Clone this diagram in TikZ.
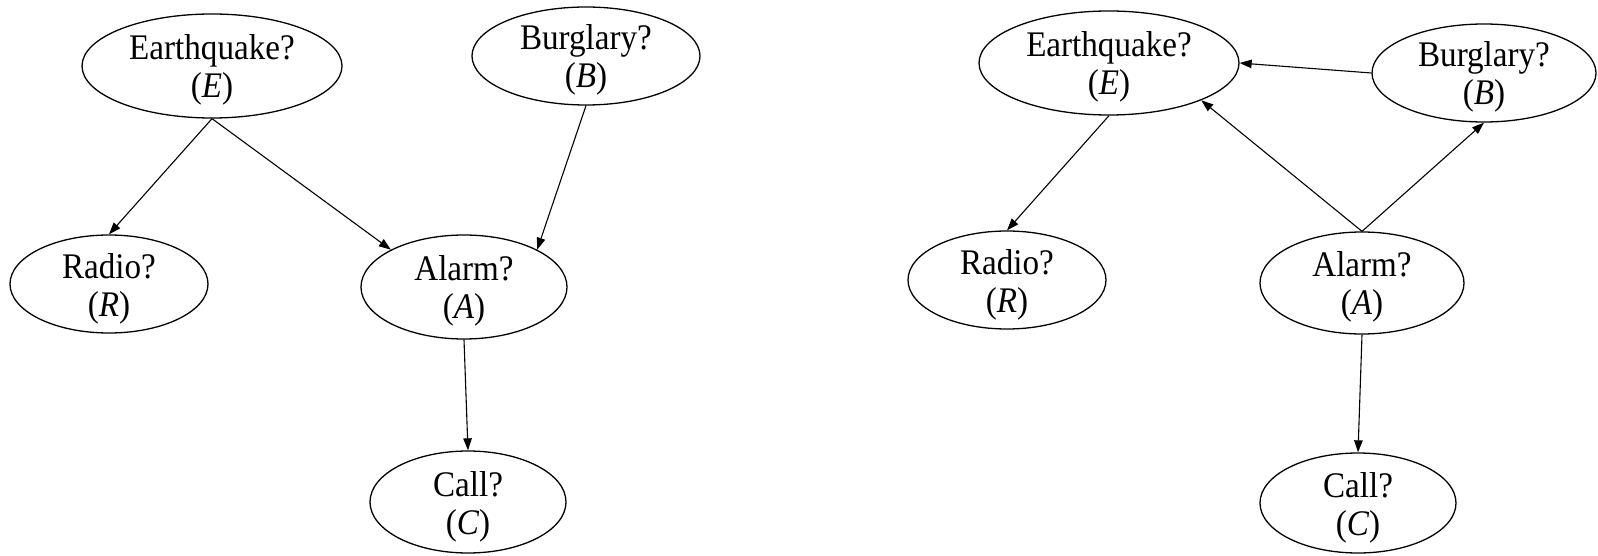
\documentclass[tikz,border=0pt]{standalone}
\usepackage{fontspec}
\setmainfont{Liberation Serif}[FakeStretch=0.92]
\usetikzlibrary{shapes.geometric,arrows.meta}
% two-line label: name and variable letter, centred on the node without
% affecting the ellipse size
\newcommand{\varlabel}[2]{\smash{\raisebox{-32pt}{%
  \begin{tabular}[b]{@{}c@{}}#1\\(\textit{#2})\end{tabular}}}}
\tikzset{
  var/.style={ellipse, draw, line width=1.3pt, inner sep=0pt,
    font=\fontsize{36}{38}\selectfont},
  arr/.style={line width=1.1pt, -{Triangle[length=12pt,width=8.5pt]}}
}
\begin{document}
\begin{tikzpicture}[x=1pt,y=-1pt]
\useasboundingbox (0,0) rectangle (1598,556);
% first network
\node[var, minimum width=260pt, minimum height=104pt] (E1) at (212,66) {\varlabel{Earthquake?}{E}};
\node[var, minimum width=228pt, minimum height=98pt] (B1) at (586,56) {\varlabel{Burglary?}{B}};
\node[var, minimum width=198pt, minimum height=98pt] (R1) at (109,284) {\varlabel{Radio?}{R}};
\node[var, minimum width=206pt, minimum height=104pt] (A1) at (464,287) {\varlabel{Alarm?}{A}};
\node[var, minimum width=196pt, minimum height=102pt] (C1) at (468,502) {\varlabel{Call?}{C}};
\draw[arr] (E1.south) -- (R1.north);
\draw[arr] (E1.south) -- (A1.153);
\draw[arr] (B1.south) -- (A1.27);
\draw[arr] (A1.south) -- (C1.north);
% second network
\node[var, minimum width=260pt, minimum height=104pt] (E2) at (1109,63) {\varlabel{Earthquake?}{E}};
\node[var, minimum width=224pt, minimum height=98pt] (B2) at (1484,73) {\varlabel{Burglary?}{B}};
\node[var, minimum width=198pt, minimum height=98pt] (R2) at (1007,280) {\varlabel{Radio?}{R}};
\node[var, minimum width=204pt, minimum height=102pt] (A2) at (1362,283) {\varlabel{Alarm?}{A}};
\node[var, minimum width=196pt, minimum height=100pt] (C2) at (1358,503) {\varlabel{Call?}{C}};
\draw[arr] (E2.south) -- (R2.north);
\draw[arr] (B2.west) -- (E2.east);
\draw[arr] (A2.north) -- (E2.-22);
\draw[arr] (A2.north) -- (B2.south);
\draw[arr] (A2.south) -- (C2.north);
\end{tikzpicture}
\end{document}
